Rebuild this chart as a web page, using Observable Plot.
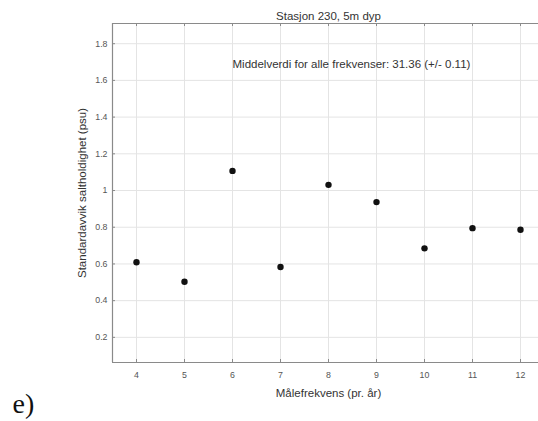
<!DOCTYPE html>
<html>
<head>
<meta charset="utf-8">
<script src="https://cdn.jsdelivr.net/npm/d3@7"></script>
<script src="https://cdn.jsdelivr.net/npm/@observablehq/plot@0.6"></script>
<style>
  html, body { margin: 0; padding: 0; background: #fff; }
  svg { display: block; }
</style>
</head>
<body>
<div id="chart"></div>
<script>
// Data
const frequencies = [4, 5, 6, 7, 8, 9, 10, 11, 12];
const stdValues = [0.609, 0.503, 1.107, 0.583, 1.031, 0.937, 0.685, 0.795, 0.786];
const xTicks = [4, 5, 6, 7, 8, 9, 10, 11, 12];
const yTicks = [0.2, 0.4, 0.6, 0.8, 1.0, 1.2, 1.4, 1.6, 1.8];
const yTickLabels = ["0.2", "0.4", "0.6", "0.8", "1", "1.2", "1.4", "1.6", "1.8"];
const titleText = "Stasjon 230, 5m dyp";
const noteText = "Middelverdi for alle frekvenser: 31.36 (+/- 0.11)";
const xLabel = "Målefrekvens (pr. år)";
const yLabel = "Standardavvik saltholdighet (psu)";
const panelLabel = "e)";

const data = frequencies.map((f, i) => ({f, v: stdValues[i]}));

const W = 538, H = 421;
const mL = 112, mT = 23, mB = 59, mR = 0;
const innerW = W - mL - mR, innerH = H - mT - mB;
const xDomain = [3.5, 12.375];
const yDomain = [0.063, 1.91];
const font = "Liberation Sans, Arial, Helvetica, sans-serif";
const axisColor = "#8a8a8a";
const gridColor = "#e4e4e4";
const labelSize = 11.5;
const tickSize = 8.8;

const chart = Plot.plot({
  width: W,
  height: H,
  marginLeft: mL,
  marginRight: mR,
  marginTop: mT,
  marginBottom: mB,
  style: {fontFamily: font, background: "#fff", overflow: "visible"},
  x: {domain: xDomain, axis: null},
  y: {domain: yDomain, axis: null},
  marks: [
    Plot.gridX(xTicks, {stroke: gridColor, strokeOpacity: 1, strokeWidth: 1}),
    Plot.gridY(yTicks, {stroke: gridColor, strokeOpacity: 1, strokeWidth: 1}),
    // inner ticks: bottom, top, left
    Plot.tickX(xTicks, {x: d => d, insetTop: innerH - 3, stroke: axisColor}),
    Plot.tickX(xTicks, {x: d => d, insetBottom: innerH - 3, stroke: axisColor}),
    Plot.tickY(yTicks, {y: d => d, insetRight: innerW - 3, stroke: axisColor}),
    // axes box (left, top, bottom)
    Plot.ruleY([yDomain[0]], {stroke: axisColor, strokeWidth: 1.2}),
    Plot.ruleY([yDomain[1]], {stroke: axisColor, strokeWidth: 1.2}),
    Plot.ruleX([xDomain[0]], {stroke: axisColor, strokeWidth: 1.2}),
    // tick labels
    Plot.text(xTicks, {x: d => d, frameAnchor: "bottom", dy: 13, text: d => String(d), fontSize: tickSize, fill: "#555", lineAnchor: "middle"}),
    Plot.text(yTicks, {y: d => d, frameAnchor: "left", dx: -5, text: (d, i) => yTickLabels[i], fontSize: tickSize, fill: "#555", textAnchor: "end"}),
    // points
    Plot.dot(data, {x: "f", y: "v", r: 3.2, fill: "#111", stroke: "none"}),
    // annotation
    Plot.text([noteText], {x: 6, y: 1.69, text: d => d, textAnchor: "start", fontSize: labelSize, fill: "#333"}),
    // title
    Plot.text([titleText], {x: 8, frameAnchor: "top", dy: -12, text: d => d, fontSize: labelSize, fill: "#333"}),
    // x label
    Plot.text([xLabel], {x: 8, frameAnchor: "bottom", dy: 34, text: d => d, fontSize: labelSize, fill: "#333"}),
    // y label
    Plot.text([yLabel], {frameAnchor: "left", dx: -30, rotate: -90, textAnchor: "middle", text: d => d, fontSize: labelSize, fill: "#333"}),
    // panel label
    Plot.text([panelLabel], {frameAnchor: "bottom-left", dx: -100, dy: 50, text: d => d, textAnchor: "start", lineAnchor: "bottom", fontSize: 28, fill: "#111", fontFamily: "Liberation Serif, Times New Roman, serif"})
  ]
});
document.getElementById("chart").appendChild(chart);
</script>
</body>
</html>
